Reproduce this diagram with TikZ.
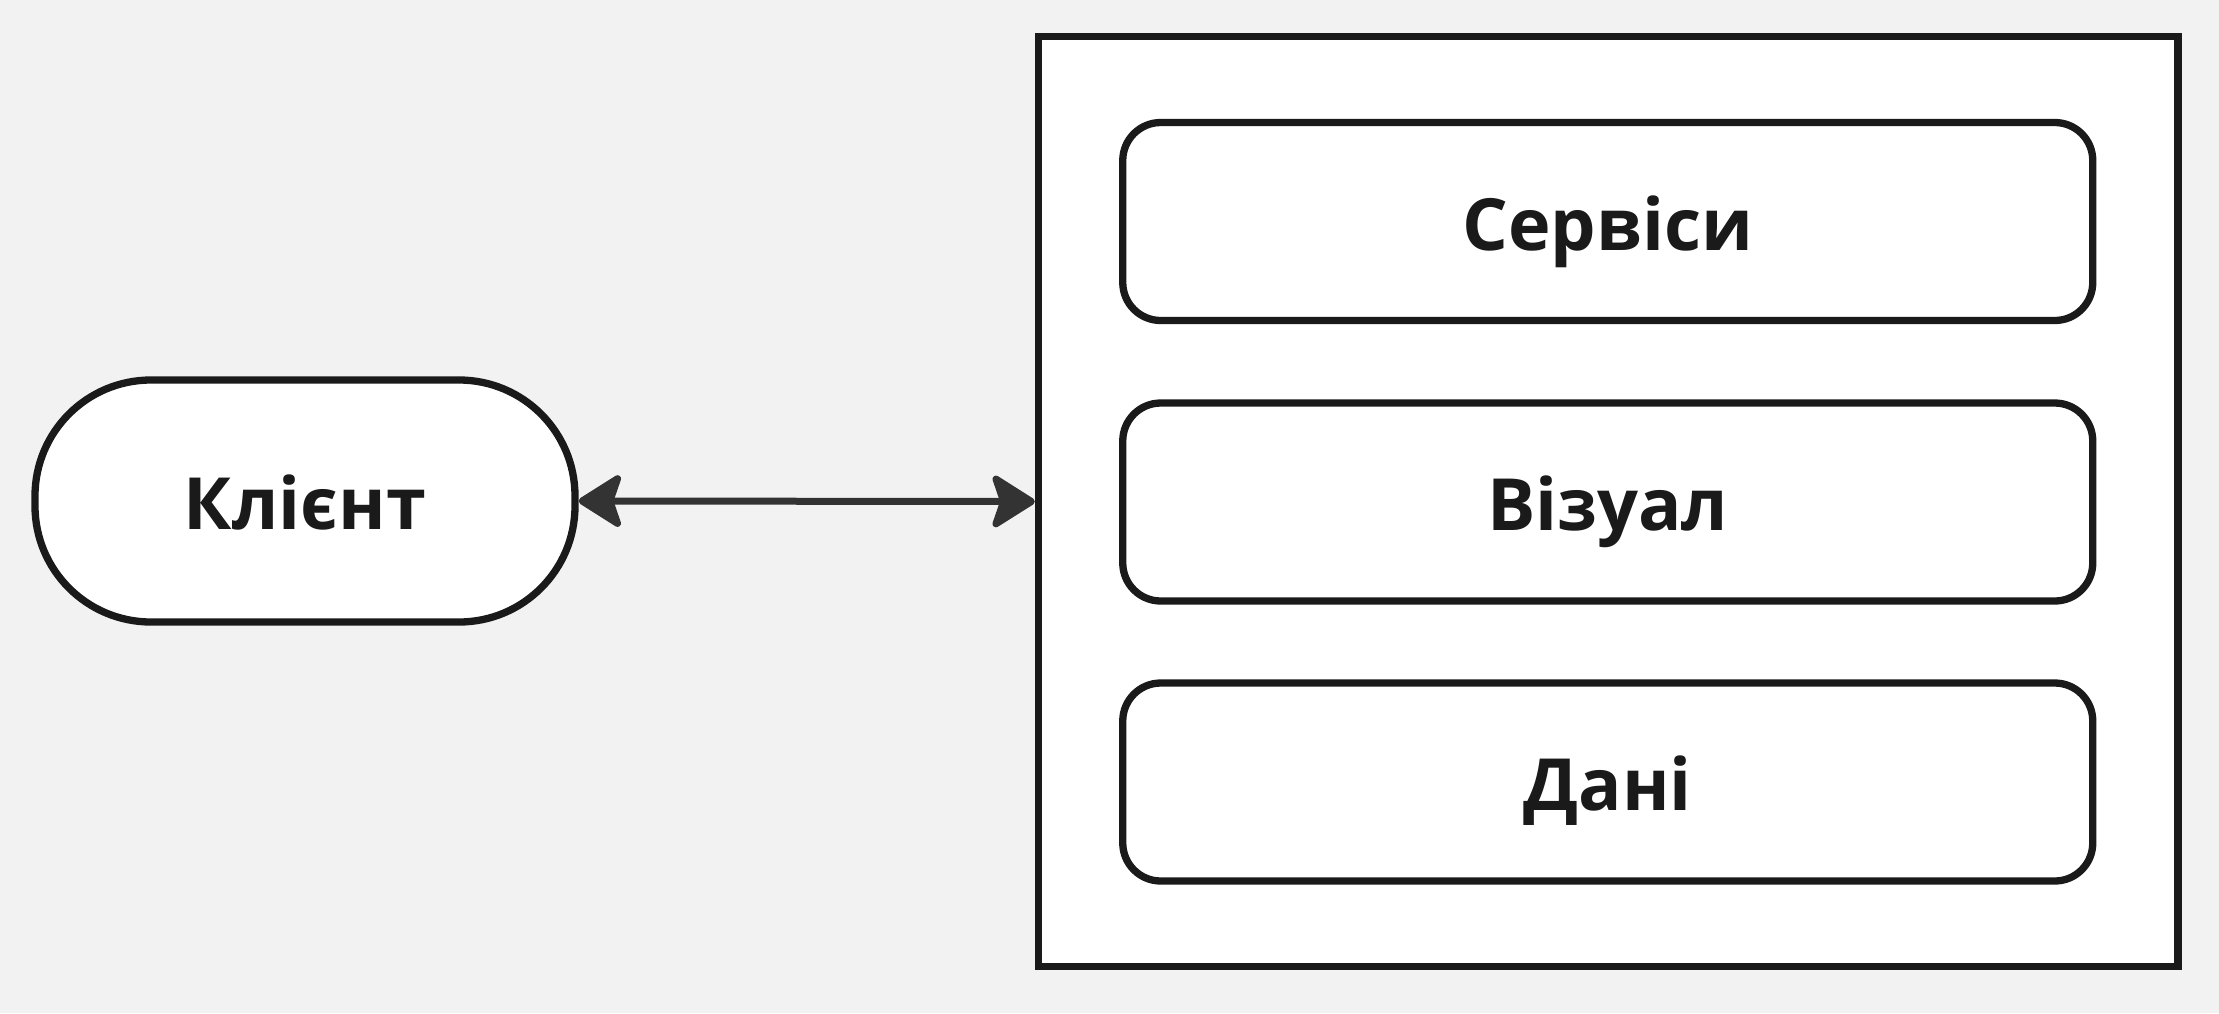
\documentclass[tikz,border=0pt]{standalone}
\usepackage{fontspec}
\setmainfont{Open Sans}
\usetikzlibrary{arrows.meta}
\definecolor{bg}{HTML}{F2F2F2}
\definecolor{ink}{HTML}{1A1A1A}
\definecolor{arr}{HTML}{333333}
\tikzset{
  lbl/.style={text=ink, font=\fontsize{72}{86}\selectfont\bfseries, text height=57pt, text depth=0pt, inner sep=0pt},
  box/.style={lbl, draw=ink, line width=7.3pt, fill=white, rounded corners=38pt, minimum width=970pt, minimum height=198pt},
  stadium/.style={lbl, draw=ink, line width=7.3pt, fill=white, rounded corners=116pt, minimum width=540pt, minimum height=242pt},
  frame/.style={draw=ink, line width=7.3pt, fill=white, minimum width=1139.5pt, minimum height=930pt},
  conn/.style={draw=arr, line width=7pt, {Stealth[length=48pt,width=60pt,inset=10pt,round]}-{Stealth[length=48pt,width=60pt,inset=10pt,round]}}
}
\begin{document}
\begin{tikzpicture}[x=1pt,y=-1pt]
\fill[bg] (0,0) rectangle (2219,1013);
\useasboundingbox (0,0) rectangle (2219,1013);
\node[frame] (grp) at (1608.25,501.5) {};
\node[box] (srv) at (1607.75,221.5) {Сервіси};
\node[box] (viz) at (1607.75,502) {Візуал};
\node[box] (dat) at (1607.75,782) {Дані};
\node[stadium] (cl) at (305,501) {Клієнт};
\draw[conn] (cl.east) -- (grp.west);
\end{tikzpicture}
\end{document}
